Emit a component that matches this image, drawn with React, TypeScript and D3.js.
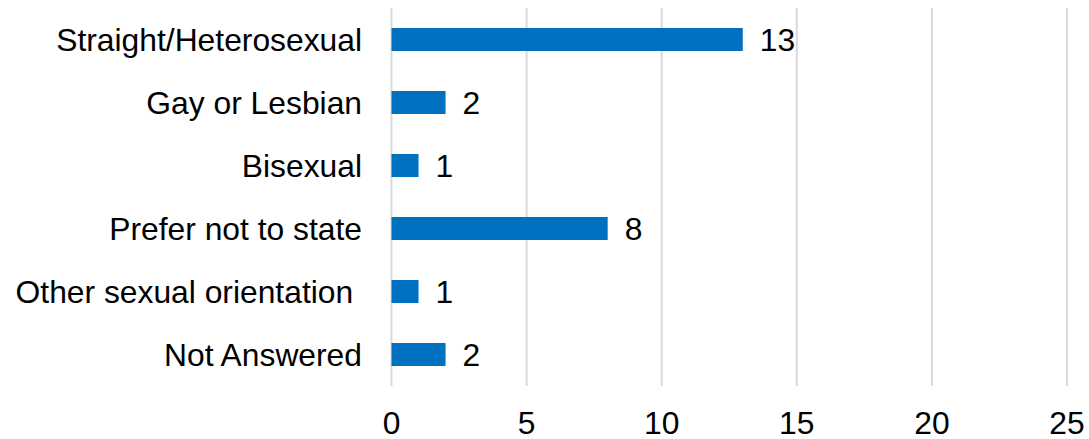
import React from "react";
import * as d3 from "d3";

const categories = [
  "Straight/Heterosexual",
  "Gay or Lesbian",
  "Bisexual",
  "Prefer not to state",
  "Other sexual orientation ",
  "Not Answered",
];
const values = [13, 2, 1, 8, 1, 2];
const ticks = [0, 5, 10, 15, 20, 25];

export default function App() {
  const W = 1089;
  const H = 439;
  const left = 391.5;
  const right = 1067;
  const top = 8;
  const bottom = 386;
  const x = d3.scaleLinear().domain([0, 25]).range([left, right]);
  const y = d3
    .scaleBand<string>()
    .domain(categories)
    .range([top, bottom])
    .paddingInner(0.635)
    .paddingOuter(0.3175);
  const font = "'Liberation Sans', Arial, sans-serif";
  const fs = 31.8;
  return (
    <svg
      width={W}
      height={H}
      style={{ position: "absolute", left: 0, top: 0, background: "#fff" }}
      fontFamily={font}
    >
      {ticks.map((t) => (
        <line
          key={"g" + t}
          x1={x(t)}
          x2={x(t)}
          y1={top}
          y2={bottom}
          stroke="#d9d9d9"
          strokeWidth={2}
        />
      ))}
      {categories.map((c, i) => {
        const by = y(c)!;
        const bh = y.bandwidth();
        const cy = by + bh / 2;
        return (
          <g key={c}>
            <rect
              x={x(0)}
              y={by}
              width={x(values[i]) - x(0)}
              height={bh}
              fill="#0070c0"
            />
            <text
              x={x(values[i]) + 17}
              y={cy + 11}
              fontSize={fs}
              fill="#000"
            >
              {values[i]}
            </text>
            <text
              x={362}
              y={cy + 11}
              fontSize={fs}
              fill="#000"
              textAnchor="end"
              style={{ whiteSpace: "pre" }}
            >
              {c}
            </text>
          </g>
        );
      })}
      {ticks.map((t) => (
        <text
          key={"t" + t}
          x={x(t)}
          y={434}
          fontSize={fs}
          fill="#000"
          textAnchor="middle"
        >
          {t}
        </text>
      ))}
    </svg>
  );
}
